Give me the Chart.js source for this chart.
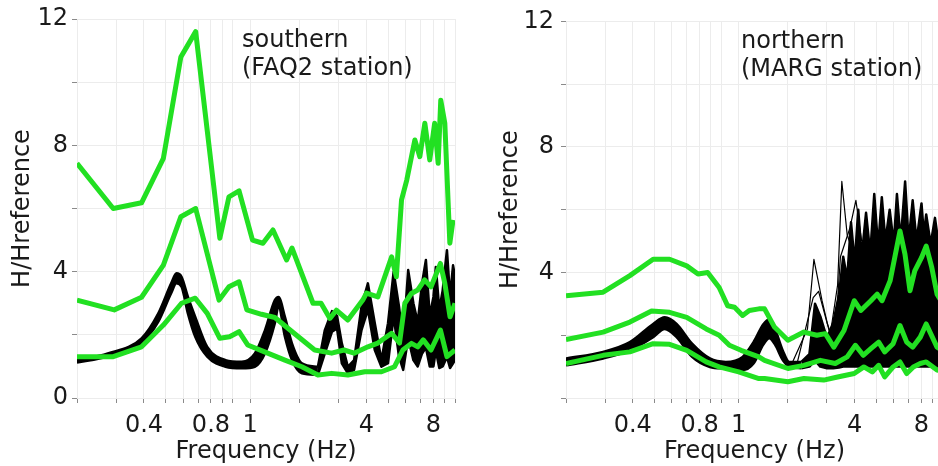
<!DOCTYPE html>
<html>
<head>
<meta charset="utf-8">
<title>H/Hreference spectral ratios</title>
<script src="https://cdn.jsdelivr.net/npm/chart.js@4.4.1/dist/chart.umd.min.js"></script>
<style>
  html, body { margin: 0; padding: 0; background: #fff; overflow: hidden; }
  #wrap { position: relative; width: 938px; height: 466px; overflow: hidden; }
  canvas { position: absolute; top: 0; }
  #south { left: 0; }
  #north { left: 469px; }
</style>
</head>
<body>
<div id="wrap">
  <canvas id="south" width="469" height="466"></canvas>
  <canvas id="north" width="490" height="466"></canvas>
</div>
<script>
// --- axis ticks ---
const xTickValues = [0.2, 0.3, 0.4, 0.5, 0.6, 0.7, 0.8, 0.9, 1, 1.2, 2, 3, 4, 5, 6, 7, 8, 9, 10];
const xLabelValues = [0.4, 0.8, 1.2, 4, 8];
const xLabelText = ['0.4', '0.8', '1', '4', '8'];
const southYLabels = [0, 4, 8, 12];
const northYLabels = [4, 8, 12];

// --- southern (FAQ2 station) ---
const southHighFreq = [0.2, 0.291, 0.39, 0.489, 0.586, 0.683, 0.877, 0.964, 1.07, 1.23, 1.37, 1.52, 1.75, 1.85, 2.3, 2.5, 2.74, 2.93, 3.3, 3.85, 4.0, 4.5, 5.19, 5.45, 5.75, 6.07, 6.6, 6.95, 7.32, 7.7, 8.1, 8.4, 8.63, 9.0, 9.48, 9.8];
const southHighVals = [7.43, 6.0, 6.18, 7.59, 10.8, 11.6, 5.06, 6.37, 6.56, 5.0, 4.9, 5.32, 4.37, 4.75, 3.0, 3.0, 2.52, 2.78, 2.47, 3.1, 3.32, 3.2, 4.47, 3.84, 6.27, 6.9, 8.17, 7.64, 8.7, 7.54, 8.7, 7.43, 9.43, 8.7, 4.9, 5.64];

const southMidFreq = [0.2, 0.294, 0.39, 0.489, 0.586, 0.683, 0.87, 0.964, 1.07, 1.16, 1.35, 1.55, 1.78, 2.34, 2.79, 3.17, 3.52, 4.06, 4.5, 5.19, 5.63, 5.95, 6.37, 6.8, 7.3, 7.8, 8.6, 9.0, 9.5, 10];
const southMidVals = [3.1, 2.79, 3.19, 4.21, 5.74, 6.0, 3.1, 3.52, 3.68, 2.79, 2.65, 2.55, 2.2, 1.52, 1.42, 1.52, 1.42, 1.62, 1.74, 2.05, 1.74, 3.0, 3.31, 3.42, 3.74, 3.52, 4.26, 3.63, 2.57, 3.0];

const southLowFreq = [0.2, 0.291, 0.39, 0.489, 0.59, 0.68, 0.77, 0.877, 0.97, 1.07, 1.17, 1.35, 1.72, 2.05, 2.42, 2.79, 3.3, 3.93, 4.67, 5.35, 5.83, 6.37, 6.8, 7.2, 7.8, 8.6, 9.2, 10];
const southLowVals = [1.31, 1.31, 1.62, 2.31, 3.0, 3.16, 2.68, 1.89, 1.94, 2.1, 1.68, 1.5, 1.2, 0.99, 0.73, 0.78, 0.73, 0.83, 0.83, 0.99, 1.52, 1.73, 1.62, 1.84, 1.52, 2.15, 1.31, 1.52];

// model ensemble: upper and lower edge of the black band,
// smooth resonance part and spiky high-frequency part
const southBandLowFreq = [0.2, 0.275, 0.39, 0.464, 0.53, 0.56, 0.59, 0.63, 0.68, 0.77, 0.93, 1.1, 1.26, 1.4, 1.55, 1.61, 1.72, 1.85, 2.05, 2.42];
const southBandLowTop = [1.2, 1.41, 1.89, 2.68, 3.63, 3.95, 3.84, 3.21, 2.57, 1.62, 1.2, 1.15, 1.41, 2.15, 3.1, 3.2, 2.57, 1.73, 1.1, 0.99];
const southBandLowBottom = [1.12, 1.31, 1.73, 2.42, 3.32, 3.63, 3.52, 2.68, 1.94, 1.31, 0.99, 0.94, 0.99, 1.42, 2.37, 2.9, 1.94, 1.2, 0.78, 0.73];

const southBandHighFreq = [2.42, 2.6, 2.8, 2.95, 3.1, 3.3, 3.52, 3.8, 4.06, 4.36, 4.67, 5.0, 5.3, 5.6, 5.85, 6.16, 6.5, 6.8, 7.1, 7.4, 7.7, 8.0, 8.2, 8.5, 8.8, 9.2, 9.5, 9.8, 10];
const southBandHighTop = [0.99, 2.15, 2.75, 2.6, 1.73, 0.99, 1.2, 2.9, 3.63, 2.37, 1.2, 2.37, 4.0, 2.9, 1.8, 4.05, 3.0, 2.4, 3.6, 4.37, 2.6, 3.2, 4.15, 2.8, 3.4, 4.68, 3.2, 4.2, 3.84];
const southBandHighBottom = [0.73, 1.41, 2.1, 2.2, 1.1, 0.78, 0.89, 2.15, 2.8, 1.52, 0.99, 1.1, 2.6, 1.31, 0.89, 1.9, 1.2, 1.0, 1.4, 1.6, 1.0, 1.0, 1.5, 0.95, 1.0, 1.3, 0.95, 1.1, 1.2];

// --- northern (MARG station) ---
const northHighFreq = [0.2, 0.294, 0.388, 0.494, 0.586, 0.7, 0.787, 0.87, 0.98, 1.07, 1.15, 1.25, 1.34, 1.48, 1.57, 1.74, 2.0, 2.36, 2.7, 2.95, 3.22, 3.58, 3.98, 4.26, 4.73, 5.05, 5.31, 5.78, 6.4, 6.74, 7.1, 7.46, 8.0, 8.4, 8.9, 9.4, 10];
const northHighVals = [3.26, 3.37, 3.9, 4.42, 4.42, 4.21, 3.95, 4.0, 3.52, 2.94, 2.89, 2.63, 2.79, 2.84, 2.84, 2.26, 1.84, 2.1, 2.0, 2.05, 1.62, 2.15, 3.1, 2.79, 3.1, 3.31, 3.1, 3.74, 5.32, 4.58, 3.42, 4.05, 4.47, 4.84, 4.16, 3.31, 3.0];

const northMidFreq = [0.2, 0.294, 0.388, 0.486, 0.586, 0.7, 0.857, 0.98, 1.09, 1.23, 1.48, 1.57, 2.0, 2.36, 2.8, 3.27, 3.7, 4.03, 4.37, 4.73, 5.13, 5.46, 5.96, 6.4, 6.86, 7.3, 7.9, 8.4, 9.4, 10];
const northMidVals = [1.86, 2.1, 2.42, 2.77, 2.73, 2.57, 2.2, 2.0, 1.68, 1.52, 1.31, 1.2, 0.94, 1.04, 1.2, 1.1, 1.31, 1.68, 1.36, 1.57, 1.78, 1.47, 1.73, 2.31, 1.78, 1.62, 1.94, 2.36, 1.62, 1.5];

const northLowFreq = [0.2, 0.294, 0.388, 0.494, 0.586, 0.7, 0.857, 0.98, 1.2, 1.48, 1.57, 2.0, 2.36, 2.9, 3.35, 3.98, 4.4, 4.8, 5.13, 5.46, 5.96, 6.4, 6.86, 7.35, 7.9, 8.4, 9.4, 10];
const northLowVals = [1.1, 1.36, 1.47, 1.73, 1.71, 1.52, 1.15, 0.99, 0.83, 0.62, 0.62, 0.52, 0.62, 0.57, 0.67, 0.78, 0.99, 0.83, 1.04, 0.67, 0.99, 1.15, 0.78, 0.99, 1.1, 1.15, 0.89, 0.85];

const northBandLowFreq = [0.2, 0.294, 0.388, 0.494, 0.557, 0.63, 0.74, 0.89, 1.05, 1.25, 1.4, 1.55, 1.65, 1.75, 1.9, 2.03, 2.3];
const northBandLowTop = [1.26, 1.47, 1.78, 2.36, 2.57, 2.36, 1.73, 1.26, 1.15, 1.31, 1.78, 2.35, 2.5, 2.2, 1.5, 1.15, 1.15];
const northBandLowBottom = [1.04, 1.26, 1.52, 1.94, 2.2, 1.94, 1.31, 0.99, 0.94, 0.89, 1.1, 1.7, 1.9, 1.7, 1.2, 1.0, 0.95];

const northBandHighFreq = [2.3, 2.5, 2.65, 2.8, 3.0, 3.2, 3.4, 3.55, 3.7, 3.85, 4.0, 4.15, 4.3, 4.5, 4.7, 4.9, 5.1, 5.3, 5.5, 5.75, 6.0, 6.2, 6.45, 6.75, 7.0, 7.3, 7.6, 8.0, 8.2, 8.4, 8.8, 9.2, 9.6, 10];
const northBandHighTop = [1.15, 1.4, 3.0, 2.6, 1.9, 2.4, 3.3, 4.5, 3.8, 5.6, 4.3, 6.0, 4.5, 5.9, 4.6, 6.5, 4.8, 6.4, 5.0, 6.0, 4.9, 6.5, 5.0, 6.9, 5.0, 6.3, 5.0, 6.2, 5.2, 5.85, 4.9, 5.74, 4.8, 4.6];
const northBandHighBottom = [0.95, 1.0, 1.2, 1.0, 0.95, 0.95, 0.97, 1.0, 1.0, 1.0, 1.0, 1.0, 1.0, 1.0, 1.0, 1.0, 1.0, 1.0, 1.0, 1.0, 1.0, 1.0, 1.0, 1.0, 1.0, 1.0, 1.0, 1.0, 1.0, 1.0, 1.0, 1.0, 1.0, 1.0];

// a couple of stray ensemble members above the band
const northStrayAFreq = [2.1, 2.45, 2.62, 2.85, 3.1, 3.35, 3.5, 3.7, 3.95];
const northStrayAVals = [1.15, 2.2, 4.42, 3.1, 2.0, 3.6, 6.9, 5.2, 4.6];
const northStrayBFreq = [2.2, 2.6, 2.75, 3.0, 3.25, 3.45, 3.8, 4.05, 4.3];
const northStrayBVals = [1.1, 3.2, 3.4, 2.4, 1.7, 4.5, 5.4, 6.3, 5.0];

const GREEN = '#22e022';
const GRID = '#ececec';
const TICK = '#8a8a8a';
const TEXT = '#1a1a1a';

Chart.defaults.font.family = '"DejaVu Sans", sans-serif';
Chart.defaults.color = TEXT;

function pts(f, v) {
    return f.map((x, i) => ({ x: x, y: v[i] }));
}

function greenLine(f, v) {
    return {
        data: pts(f, v),
        borderColor: GREEN,
        borderWidth: 5,
        borderJoinStyle: 'round',
        pointRadius: 0,
        tension: 0,
        fill: false,
        order: 0
    };
}

function blackLine(f, v, width, fill, smooth) {
    const ds = {
        data: pts(f, v),
        borderColor: '#000',
        backgroundColor: '#000',
        borderWidth: width,
        borderJoinStyle: 'round',
        pointRadius: 0,
        tension: 0,
        fill: fill,
        order: 1
    };
    if (smooth) ds.cubicInterpolationMode = 'monotone';
    return ds;
}

function labelFor(v) {
    const i = xLabelValues.findIndex(l => Math.abs(l - v) < 1e-6);
    return i >= 0 ? xLabelText[i] : '';
}

// station name written in the upper part of each panel
const stationLabel = {
    id: 'stationLabel',
    afterDraw(chart, args, opts) {
        const { ctx, chartArea } = chart;
        ctx.save();
        ctx.font = '24px "DejaVu Sans"';
        ctx.fillStyle = TEXT;
        ctx.textBaseline = 'alphabetic';
        opts.lines.forEach((t, i) => {
            ctx.fillText(t, chartArea.left + opts.dx, opts.y0 + i * opts.lh);
        });
        ctx.restore();
    }
};

function panelOptions(p) {
    return {
        responsive: false,
        animation: false,
        devicePixelRatio: 1,
        layout: { padding: { top: 19, right: p.rightPad, left: 0, bottom: 0 } },
        plugins: {
            legend: { display: false },
            tooltip: { enabled: false },
            stationLabel: { lines: p.station, dx: p.labelDx, y0: p.labelY, lh: 28 }
        },
        scales: {
            x: {
                type: 'logarithmic',
                min: 0.2,
                max: 10,
                afterBuildTicks: s => { s.ticks = xTickValues.map(v => ({ value: v })); },
                afterFit: s => { s.height = 68; },
                grid: { color: GRID, tickColor: TICK, tickLength: 5 },
                border: { color: GRID },
                ticks: {
                    autoSkip: false,
                    maxRotation: 0,
                    padding: 8,
                    font: { size: 24 },
                    color: TEXT,
                    callback: v => labelFor(v)
                },
                title: {
                    display: true,
                    text: 'Frequency (Hz)',
                    font: { size: 24 },
                    color: TEXT,
                    padding: { top: 0, bottom: 0 }
                }
            },
            y: {
                min: 0,
                max: 12,
                afterFit: s => { s.width = p.yWidth; },
                grid: { color: GRID, tickColor: TICK, tickLength: 5 },
                border: { color: GRID },
                ticks: {
                    stepSize: 1,
                    padding: p.yTickPad,
                    font: { size: 24 },
                    color: TEXT,
                    callback: v => p.yLabels.includes(v) ? String(v) : ''
                },
                title: {
                    display: true,
                    text: 'H/Hreference',
                    font: { size: 24 },
                    color: TEXT,
                    padding: { top: p.yTitlePad, bottom: 0 }
                }
            }
        }
    };
}

new Chart(document.getElementById('south'), {
    type: 'line',
    data: {
        datasets: [
            blackLine(southBandLowFreq, southBandLowTop, 2.5, false, true),
            blackLine(southBandLowFreq, southBandLowBottom, 2.5, '-1', true),
            blackLine(southBandHighFreq, southBandHighTop, 2.5, false, false),
            blackLine(southBandHighFreq, southBandHighBottom, 2.5, '-1', false),
            greenLine(southHighFreq, southHighVals),
            greenLine(southMidFreq, southMidVals),
            greenLine(southLowFreq, southLowVals)
        ]
    },
    options: panelOptions({
        rightPad: 14, yWidth: 77, yTickPad: 4, yTitlePad: 8,
        yLabels: southYLabels,
        station: ['southern', '(FAQ2 station)'], labelDx: 165, labelY: 47
    }),
    plugins: [stationLabel]
});

new Chart(document.getElementById('north'), {
    type: 'line',
    data: {
        datasets: [
            blackLine(northBandLowFreq, northBandLowTop, 2.5, false, true),
            blackLine(northBandLowFreq, northBandLowBottom, 2.5, '-1', true),
            blackLine(northBandHighFreq, northBandHighTop, 2.5, false, false),
            blackLine(northBandHighFreq, northBandHighBottom, 2.5, '-1', false),
            blackLine(northStrayAFreq, northStrayAVals, 1.2, false, false),
            blackLine(northStrayBFreq, northStrayBVals, 1.2, false, false),
            greenLine(northHighFreq, northHighVals),
            greenLine(northMidFreq, northMidVals),
            greenLine(northLowFreq, northLowVals)
        ]
    },
    options: panelOptions({
        rightPad: 16, yWidth: 97, yTickPad: 7, yTitlePad: 27,
        yLabels: northYLabels,
        station: ['northern', '(MARG station)'], labelDx: 175, labelY: 48
    }),
    plugins: [stationLabel]
});
</script>
</body>
</html>
